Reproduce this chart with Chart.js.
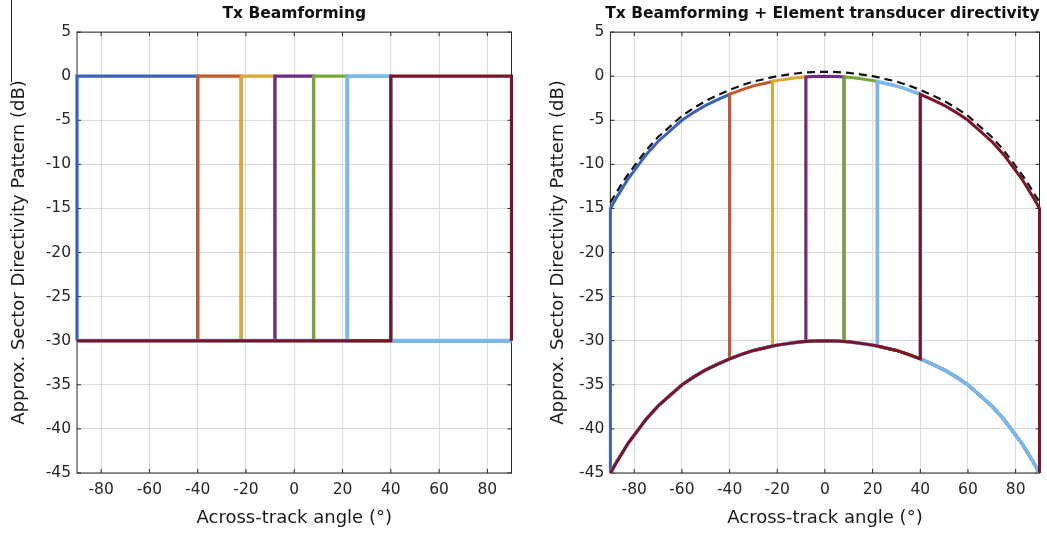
<!DOCTYPE html>
<html>
<head>
<meta charset="utf-8">
<script src="https://cdn.jsdelivr.net/npm/chart.js@4"></script>
<style>
html, body { margin: 0; padding: 0; background: #fff; }
#wrapL { position: absolute; left: 0; top: 0; width: 520px; height: 537px; }
#wrapR { position: absolute; left: 520px; top: 0; width: 527px; height: 537px; }
#edge { position: absolute; left: 11px; top: 0; width: 1px; height: 82px; background: #222; }
</style>
</head>
<body>
<div id="edge"></div>
<div id="wrapL"><canvas id="leftChart" width="520" height="537"></canvas></div>
<div id="wrapR"><canvas id="rightChart" width="527" height="537"></canvas></div>
<script>
// sector limits (deg) and colours
var sectorStart = [-90, -40, -22, -8, 8, 22, 40];
var sectorEnd = [-40, -22, -8, 8, 22, 40, 90];
var sectorColors = ["#3A62B9", "#C5582B", "#DBA935", "#6B2A8C", "#76A636", "#7BB7EA", "#7C1429"];
var sectorWidths = [3.2, 3.2, 3.2, 3.2, 3.2, 3.8, 3.2];
var onLevel = 0;      // dB inside sector
var offLevel = -30;   // dB outside sector

// element transducer directivity
var elemAngle = [-90, -87.5, -85, -82.5, -80, -75, -70, -65, -60, -55, -50, -45, -40, -35, -30, -25, -22, -20, -15, -10, -8, -5, 0,
                 5, 8, 10, 15, 20, 22, 25, 30, 35, 40, 45, 50, 55, 60, 65, 70, 75, 80, 82.5, 85, 87.5, 90];
var elemDb = [-15, -13.8, -12.7, -11.6, -10.7, -8.9, -7.4, -6.2, -5.0, -4.1, -3.3, -2.65, -2.05, -1.55, -1.1, -0.8, -0.6, -0.5, -0.3, -0.12, -0.08, -0.03, 0,
              -0.03, -0.08, -0.12, -0.3, -0.5, -0.6, -0.8, -1.1, -1.55, -2.05, -2.65, -3.3, -4.1, -5.0, -6.2, -7.4, -8.9, -10.7, -11.6, -12.7, -13.8, -15];
// dashed envelope
var envDb = [-14.3, -13.2, -12.1, -11.1, -10.2, -8.4, -6.9, -5.7, -4.5, -3.6, -2.8, -2.15, -1.55, -1.05, -0.6, -0.3, -0.1, 0.0, 0.2, 0.38, 0.42, 0.47, 0.5,
           0.47, 0.42, 0.38, 0.2, 0.0, -0.1, -0.3, -0.6, -1.05, -1.55, -2.15, -2.8, -3.6, -4.5, -5.7, -6.9, -8.4, -10.2, -11.1, -12.1, -13.2, -14.3];

var angleTicks = [-80, -60, -40, -20, 0, 20, 40, 60, 80];
var dbMin = -45, dbMax = 5, dbStep = 5;

var FONT = "'DejaVu Sans', sans-serif";

var boxPlugin = {
  id: 'box',
  beforeDatasetsDraw: function (chart) {
    var ctx = chart.ctx, a = chart.chartArea, x = chart.scales.x, y = chart.scales.y;
    ctx.save();
    ctx.strokeStyle = '#262626';
    ctx.lineWidth = 1;
    ctx.strokeRect(a.left, a.top, a.right - a.left, a.bottom - a.top);
    ctx.beginPath();
    x.ticks.forEach(function (t) {
      var px = x.getPixelForValue(t.value);
      ctx.moveTo(px, a.bottom); ctx.lineTo(px, a.bottom - 4);
      ctx.moveTo(px, a.top); ctx.lineTo(px, a.top + 4);
    });
    y.ticks.forEach(function (t) {
      var py = y.getPixelForValue(t.value);
      ctx.moveTo(a.left, py); ctx.lineTo(a.left + 4, py);
      ctx.moveTo(a.right, py); ctx.lineTo(a.right - 4, py);
    });
    ctx.stroke();
    ctx.restore();
  }
};

function makeOptions(cfg) {
  return {
    responsive: false,
    animation: false,
    layout: { padding: { left: 0, right: cfg.padRight, top: 0, bottom: 0 } },
    plugins: {
      legend: { display: false },
      tooltip: { enabled: false },
      title: {
        display: true,
        text: cfg.title,
        fullSize: cfg.fullTitle,
        align: cfg.titleAlign,
        color: '#111',
        font: { family: FONT, size: 15.5, weight: 'bold' },
        padding: { top: 4.5, bottom: 9 }
      }
    },
    elements: { point: { radius: 0 }, line: { tension: 0 } },
    scales: {
      x: {
        type: 'linear',
        min: -90, max: 90,
        afterBuildTicks: function (s) { s.ticks = angleTicks.map(function (v) { return { value: v }; }); },
        afterFit: function (s) { s.height = 64; },
        grid: { color: '#dcdcdc', drawTicks: false },
        border: { display: false },
        ticks: { color: '#262626', font: { family: FONT, size: 15.5 }, padding: 8, maxRotation: 0, autoSkip: false },
        title: { display: true, text: 'Across-track angle (°)', color: '#1a1a1a',
                 font: { family: FONT, size: 18 }, padding: { top: 0, bottom: 7.5 } }
      },
      y: {
        type: 'linear',
        min: dbMin, max: dbMax,
        afterFit: function (s) { s.width = cfg.yWidth; },
        grid: { color: '#dcdcdc', drawTicks: false },
        border: { display: false },
        ticks: { stepSize: dbStep, color: '#262626', font: { family: FONT, size: 15.5 }, padding: 6 },
        title: { display: true, text: 'Approx. Sector Directivity Pattern (dB)', color: '#1a1a1a',
                 font: { family: FONT, size: 18 }, padding: { top: cfg.yTitlePad, bottom: 0 } }
      }
    }
  };
}

// left panel: ideal sectors
var leftSets = sectorStart.map(function (a, i) {
  var b = sectorEnd[i];
  return {
    data: [
      { x: -90, y: offLevel }, { x: a, y: offLevel }, { x: a, y: onLevel },
      { x: b, y: onLevel }, { x: b, y: offLevel }, { x: 90, y: offLevel }
    ],
    borderColor: sectorColors[i],
    borderWidth: sectorWidths[i],
    clip: false,
    order: sectorStart.length - i
  };
});

new Chart(document.getElementById('leftChart'), {
  type: 'line',
  data: { datasets: leftSets },
  options: makeOptions({ title: 'Tx Beamforming', fullTitle: false, titleAlign: 'center',
                         padRight: 8.5, yWidth: 77, yTitlePad: 9 }),
  plugins: [boxPlugin]
});

// right panel: sectors shaped by element directivity
var rightSets = sectorStart.map(function (a, i) {
  var b = sectorEnd[i];
  var pts = [];
  elemAngle.forEach(function (x, k) {
    var d = elemDb[k];
    if (x === a) {
      pts.push({ x: x, y: d + offLevel });
      pts.push({ x: x, y: d + onLevel });
    } else if (x === b) {
      pts.push({ x: x, y: d + onLevel });
      pts.push({ x: x, y: d + offLevel });
    } else if (x > a && x < b) {
      pts.push({ x: x, y: d + onLevel });
    } else {
      pts.push({ x: x, y: d + offLevel });
    }
  });
  return {
    data: pts,
    borderColor: sectorColors[i],
    borderWidth: sectorWidths[i] - 0.2,
    clip: false,
    order: sectorStart.length - i
  };
});
rightSets.push({
  data: elemAngle.map(function (x, k) { return { x: x, y: envDb[k] }; }),
  borderColor: '#111',
  borderWidth: 2.2,
  borderDash: [8, 5],
  clip: false,
  order: 0
});

new Chart(document.getElementById('rightChart'), {
  type: 'line',
  data: { datasets: rightSets },
  options: makeOptions({ title: 'Tx Beamforming + Element transducer directivity', fullTitle: true, titleAlign: 'end',
                         padRight: 7.5, yWidth: 90.4, yTitlePad: 28 }),
  plugins: [boxPlugin]
});
</script>
</body>
</html>
